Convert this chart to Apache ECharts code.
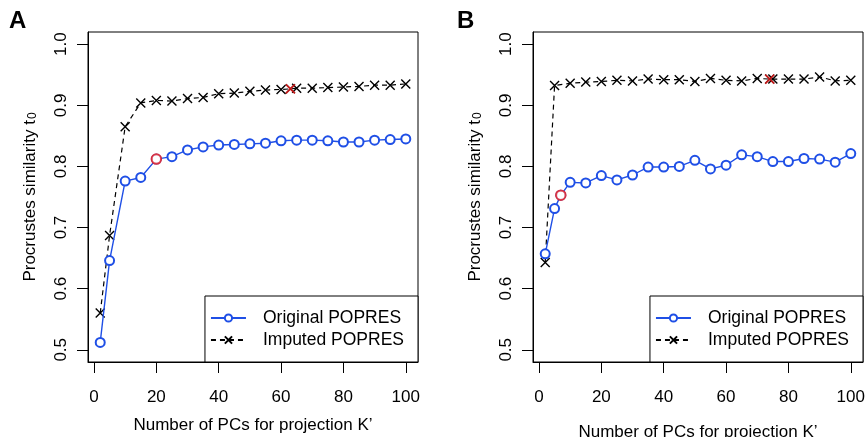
<!DOCTYPE html>
<html>
<head>
<meta charset="utf-8">
<script src="https://cdn.jsdelivr.net/npm/echarts@6/dist/echarts.min.js"></script>
<style>html,body{margin:0;padding:0;background:#fff}#c{width:867px;height:437px}</style>
</head>
<body>
<div id="c"></div>
<script>
// ---- data ----
const xTicks = [0, 20, 40, 60, 80, 100];
const yTicks = [0.5, 0.6, 0.7, 0.8, 0.9, 1.0];

// Panel A
const kOrigA = [2,5,10,15,20,25,30,35,40,45,50,55,60,65,70,75,80,85,90,95,100];
const origA  = [0.512,0.646,0.776,0.782,0.812,0.816,0.827,0.832,0.835,0.836,0.837,0.838,0.842,0.843,0.843,0.842,0.840,0.840,0.843,0.844,0.845];
const kImpA  = [2,5,10,15,20,25,30,35,40,45,50,55,60,63,65,70,75,80,85,90,95,100];
const impA   = [0.560,0.687,0.865,0.904,0.908,0.907,0.911,0.913,0.919,0.920,0.923,0.925,0.926,0.927,0.928,0.928,0.929,0.930,0.931,0.933,0.933,0.935];
const bestOrigA = 20;   // K' highlighted in red
const bestImpA  = 63;

// Panel B
const kOrigB = [2,5,7,10,15,20,25,30,35,40,45,50,55,60,65,70,75,80,85,90,95,100];
const origB  = [0.657,0.731,0.753,0.774,0.773,0.785,0.778,0.786,0.799,0.799,0.800,0.810,0.796,0.802,0.819,0.816,0.808,0.808,0.813,0.812,0.807,0.821];
const kImpB  = [2,5,10,15,20,25,30,35,40,45,50,55,60,65,70,74,75,80,85,90,95,100];
const impB   = [0.643,0.9325,0.936,0.938,0.939,0.941,0.940,0.943,0.942,0.942,0.939,0.944,0.941,0.940,0.944,0.943,0.943,0.943,0.943,0.9465,0.940,0.941];
const bestOrigB = 7;
const bestImpB  = 74;

const NAME_ORIG = 'Original POPRES';
const NAME_IMP  = 'Imputed POPRES';
const xTitle = 'Number of PCs for projection K\u2019';

// ---- styles ----
const FONT = 'Liberation Sans, Arial, Helvetica, sans-serif';
const BLUE = '#1f4fe6';
const RED = '#ee1c1c';
const XPATH = 'path://M0,0L10,10M10,0L0,10';

const pts = (ks, vs) => ks.map((k, i) => [k, vs[i]]);
const bestPt = (ks, vs, best) => ks.map((k, i) => [k, vs[i]]).filter(p => p[0] === best);

function xAxisDef(gi, gap) {
  return {
    gridIndex: gi, type: 'value', min: -1.92, max: 103.92,
    axisLine: { show: true, onZero: false, lineStyle: { color: '#000', width: 1 } },
    axisTick: { show: true, length: 11, customValues: xTicks, lineStyle: { color: '#000', width: 1 } },
    axisLabel: { customValues: xTicks, fontSize: 17, color: '#000', fontFamily: FONT, margin: 27 },
    splitLine: { show: false },
    name: xTitle, nameLocation: 'middle', nameGap: gap,
    nameTextStyle: { fontSize: 17, color: '#000', fontFamily: FONT }
  };
}
function yAxisDef(gi) {
  return {
    gridIndex: gi, type: 'value', min: 0.48, max: 1.02,
    axisLine: { show: true, onZero: false, lineStyle: { color: '#000', width: 1 } },
    axisTick: { show: true, length: 11, customValues: yTicks, lineStyle: { color: '#000', width: 1 } },
    axisLabel: { customValues: yTicks, rotate: 90, fontSize: 17, color: '#000', fontFamily: FONT, margin: 18,
                 formatter: v => Number(v).toFixed(1) },
    splitLine: { show: false },
    name: 'Procrustes similarity t{s|0}', nameLocation: 'middle', nameGap: 49, nameRotate: 90,
    nameTextStyle: { fontSize: 17, color: '#000', fontFamily: FONT,
      rich: { s: { fontSize: 12, color: '#000', fontFamily: FONT, verticalAlign: 'bottom', padding: [0, 0, 0, 1] } } }
  };
}
function origSeries(gi, ks, vs) {
  return {
    name: NAME_ORIG, type: 'line', xAxisIndex: gi, yAxisIndex: gi,
    data: pts(ks, vs),
    symbol: 'emptyCircle', symbolSize: 9,
    lineStyle: { color: BLUE, width: 1.4 },
    itemStyle: { color: BLUE, borderColor: BLUE, borderWidth: 1.5 },
    emphasis: { disabled: true }, animation: false, z: 3
  };
}
function impSeries(gi, ks, vs) {
  return {
    name: NAME_IMP, type: 'line', xAxisIndex: gi, yAxisIndex: gi,
    data: pts(ks, vs),
    symbol: XPATH, symbolSize: 9,
    lineStyle: { color: '#000', width: 1.2, type: [5, 4] },
    itemStyle: { color: '#000', borderColor: '#000', borderWidth: 1.4 },
    emphasis: { disabled: true }, animation: false, z: 2
  };
}
function bestSeries(gi, ks, vs, best, symbol) {
  return {
    name: 'best', type: 'scatter', xAxisIndex: gi, yAxisIndex: gi,
    data: bestPt(ks, vs, best),
    symbol: symbol, symbolSize: symbol === 'emptyCircle' ? 9.5 : 9,
    itemStyle: { color: RED, borderColor: RED, borderWidth: 1.8 },
    emphasis: { disabled: true }, animation: false, z: 5
  };
}
function legendDef(right) {
  return {
    right: right, top: 296, orient: 'vertical',
    data: [NAME_ORIG, NAME_IMP],
    backgroundColor: '#fff', borderColor: '#000', borderWidth: 1, borderRadius: 0,
    padding: [11, 14, 11, 5], itemGap: 0, itemWidth: 35, itemHeight: 9,
    textStyle: { fontSize: 17.5, color: '#000', fontFamily: FONT, lineHeight: 22, padding: [0, 0, 0, 12] },
    selectedMode: false, z: 10
  };
}

const chart = echarts.init(document.getElementById('c'), null, { renderer: 'canvas' });
chart.setOption({
  animation: false,
  backgroundColor: '#fff',
  title: [
    { text: 'A', left: 4, top: 4, textStyle: { fontSize: 24, fontWeight: 'bold', color: '#000', fontFamily: FONT } },
    { text: 'B', left: 452, top: 4, textStyle: { fontSize: 24, fontWeight: 'bold', color: '#000', fontFamily: FONT } }
  ],
  grid: [
    { left: 88, right: 449, top: 32, bottom: 75, show: true, borderColor: '#000', borderWidth: 1, containLabel: false, outerBoundsMode: 'none' },
    { left: 533, right: 4, top: 32, bottom: 75, show: true, borderColor: '#000', borderWidth: 1, containLabel: false, outerBoundsMode: 'none' }
  ],
  xAxis: [xAxisDef(0, 55), xAxisDef(1, 62)],
  yAxis: [yAxisDef(0), yAxisDef(1)],
  legend: [legendDef(449), legendDef(4)],
  series: [
    impSeries(0, kImpA, impA),
    origSeries(0, kOrigA, origA),
    bestSeries(0, kImpA, impA, bestImpA, XPATH),
    bestSeries(0, kOrigA, origA, bestOrigA, 'emptyCircle'),
    impSeries(1, kImpB, impB),
    origSeries(1, kOrigB, origB),
    bestSeries(1, kImpB, impB, bestImpB, XPATH),
    bestSeries(1, kOrigB, origB, bestOrigB, 'emptyCircle')
  ]
});
</script>
</body>
</html>
